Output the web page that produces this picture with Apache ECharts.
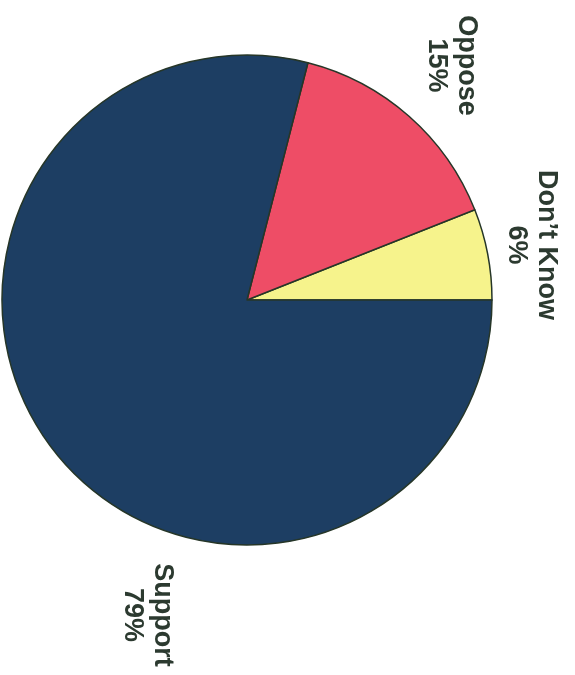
<!DOCTYPE html>
<html>
<head>
<meta charset="utf-8">
<script src="https://cdn.jsdelivr.net/npm/echarts@6/dist/echarts.min.js"></script>
<style>html,body{margin:0;padding:0;background:#fff}#c{width:575px;height:675px}</style>
</head>
<body>
<div id="c"></div>
<script>
const categories = ['Don\u2019t Know', 'Oppose', 'Support'];
const values = [6, 15, 79];
const colors = ['#f6f38c', '#ee4d66', '#1d3e63'];
// label anchor points (fraction of chart width/height)
const labelPos = [[0.924, 0.363], [0.786, 0.097], [0.257, 0.911]];

const chart = echarts.init(document.getElementById('c'), null, {renderer: 'canvas'});
chart.setOption({
  backgroundColor: '#ffffff',
  animation: false,
  series: [{
    type: 'pie',
    center: [247, 300],
    radius: [0, 245],
    startAngle: 0,
    clockwise: false,
    data: categories.map((n, i) => ({name: n, value: values[i], itemStyle: {color: colors[i]}})),
    itemStyle: {borderColor: '#263628', borderWidth: 1.5},
    emphasis: {disabled: true},
    label: {
      show: true,
      position: 'outside',
      alignTo: 'none',
      overflow: 'none',
      width: 300,
      formatter: '{b}\n{c}%',
      fontFamily: 'Liberation Sans, Arial, sans-serif',
      fontWeight: 'bold',
      fontSize: 27,
      lineHeight: 30,
      color: '#2c3a30',
      align: 'center'
    },
    labelLine: {show: false},
    labelLayout: function (p) {
      const w = chart.getWidth(), h = chart.getHeight();
      const lp = labelPos[p.dataIndex];
      return {x: lp[0] * w, y: lp[1] * h, rotate: -90, align: 'center', verticalAlign: 'middle', hideOverlap: false, moveOverlap: null};
    }
  }]
});
</script>
</body>
</html>
